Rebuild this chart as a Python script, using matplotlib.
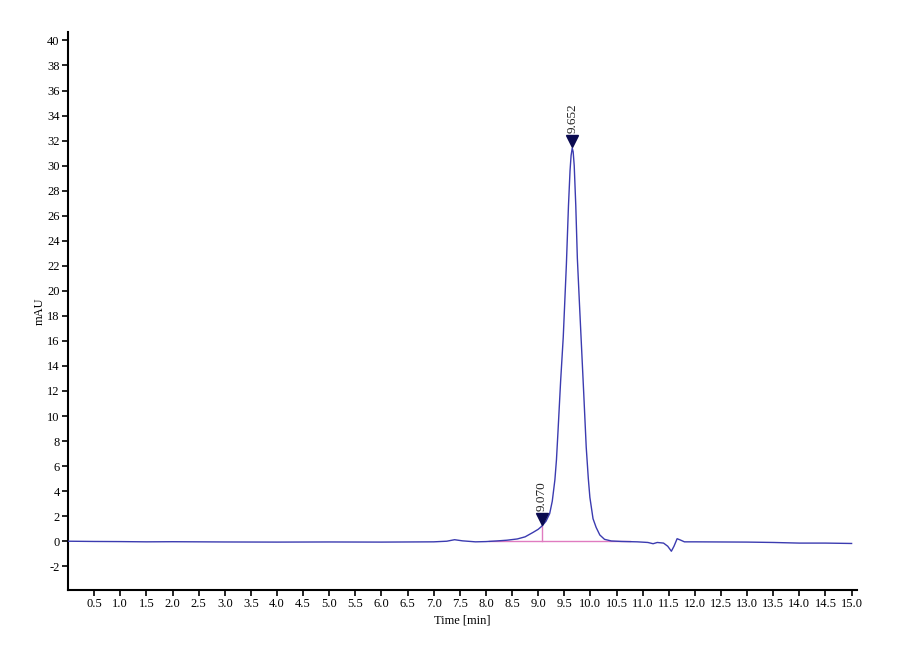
import matplotlib
matplotlib.use("Agg")
import matplotlib.pyplot as plt
import matplotlib.transforms as mtransforms

# Chromatogram points (time in min, signal in mAU)
time_min = [0.00, 0.50, 1.00, 1.50, 2.00, 3.00, 4.00, 5.00, 6.00, 7.00, 7.25, 7.40, 7.55,
            7.80, 8.00, 8.20, 8.40, 8.60, 8.75, 8.90, 9.00, 9.07, 9.15, 9.22, 9.27, 9.32,
            9.35, 9.38, 9.43, 9.48, 9.54, 9.58, 9.61, 9.63, 9.652, 9.67, 9.69, 9.72, 9.75,
            9.79, 9.83, 9.87, 9.92, 9.96, 9.99, 10.05, 10.11, 10.18, 10.27, 10.40, 10.60,
            10.90, 11.10, 11.20, 11.28, 11.40, 11.48, 11.55, 11.60, 11.66, 11.72, 11.80,
            12.00, 13.00, 13.50, 14.00, 14.50, 15.00]
signal_mau = [0.00, -0.02, -0.03, -0.05, -0.04, -0.06, -0.07, -0.06, -0.07, -0.05, 0.00, 0.12, 0.03,
              -0.05, -0.03, 0.02, 0.08, 0.18, 0.35, 0.70, 0.95, 1.20, 1.60, 2.20, 3.20, 4.90,
              6.50, 8.80, 12.80, 16.30, 22.10, 26.80, 29.60, 30.80, 31.40, 31.10, 30.00, 26.80, 22.60,
              19.00, 15.50, 12.00, 7.50, 5.00, 3.50, 1.80, 1.10, 0.50, 0.15, 0.02, -0.02,
              -0.05, -0.10, -0.20, -0.10, -0.15, -0.40, -0.80, -0.40, 0.20, 0.10, -0.05,
              -0.05, -0.07, -0.10, -0.15, -0.15, -0.18]

peak_times = [9.070, 9.652]
peak_heights = [1.20, 31.40]
peak_labels = ["9.070", "9.652"]
baseline_start, baseline_end = 8.05, 10.75

x_ticks = [0.5 * i for i in range(1, 31)]
y_ticks = list(range(-2, 41, 2))

plt.rcParams['font.family'] = ['Liberation Serif', 'DejaVu Serif']

fig = plt.figure(figsize=(9, 6.6), dpi=100)
ax = fig.add_axes([0.0756, 0.106, 0.877, 0.846])

line_color = '#3b3bb0'
pink = '#e07bc0'

# integration baseline and drop line
ax.plot([baseline_start, baseline_end], [0, 0], color=pink, lw=1.0, zorder=2)
ax.plot([peak_times[0], peak_times[0]], [0, peak_heights[0]], color=pink, lw=1.0, zorder=2)

ax.plot(time_min, signal_mau, color=line_color, lw=1.0, zorder=3)

offset = mtransforms.offset_copy(ax.transData, fig=fig, x=0, y=5, units='points')
offset_txt = mtransforms.offset_copy(ax.transData, fig=fig, x=0, y=11, units='points')
for t, h, lab in zip(peak_times, peak_heights, peak_labels):
    ax.plot([t], [h], marker='v', color='#0a0a50', markersize=8, transform=offset, zorder=4,
            clip_on=False)
    ax.text(t, h, lab, rotation=90, ha='center', va='bottom', fontsize=9.5,
            color='#222222', transform=offset_txt)

ax.set_xlim(0, 15.11)
ax.set_ylim(-3.9, 40.7)
ax.set_xticks(x_ticks)
ax.set_xticklabels([f"{v:.1f}" for v in x_ticks])
ax.set_yticks(y_ticks)
ax.set_yticklabels([str(v) for v in y_ticks])
ax.tick_params(axis='both', direction='out', length=4, width=1.2, labelsize=9, pad=2)

for s in ['top', 'right']:
    ax.spines[s].set_visible(False)
for s in ['left', 'bottom']:
    ax.spines[s].set_linewidth(1.5)

ax.set_xlabel("Time [min]", fontsize=9, labelpad=3)
ax.set_ylabel("mAU", fontsize=9)
ax.yaxis.set_label_coords(-0.028, 0.5)

fig.savefig("out.png", dpi=100)
